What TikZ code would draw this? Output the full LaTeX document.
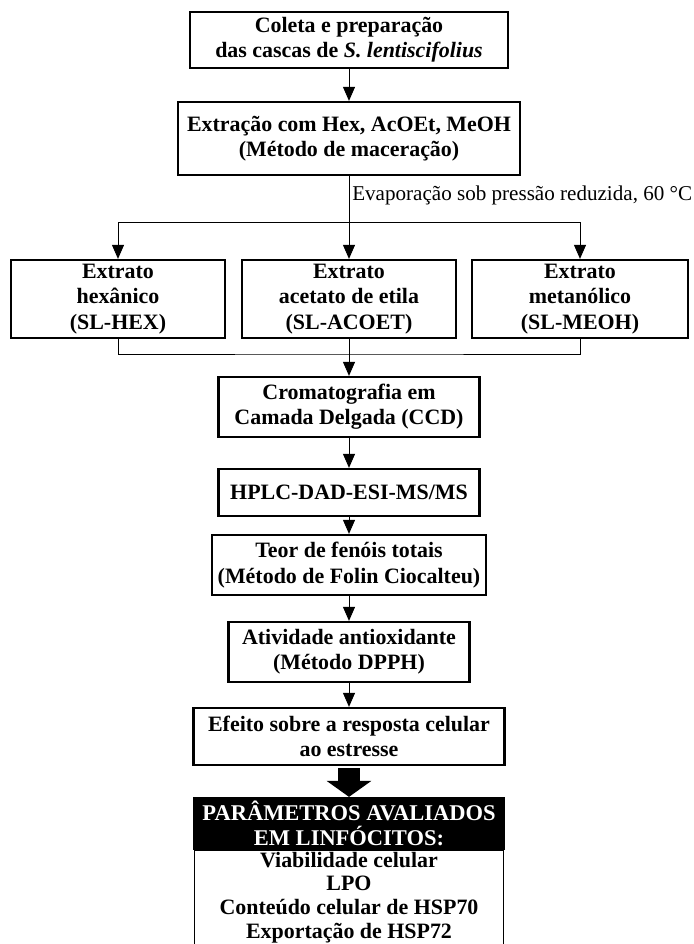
\documentclass[tikz,border=0pt]{standalone}
\usepackage{fontspec}
\setmainfont{Liberation Serif}
\usetikzlibrary{arrows.meta}

\begin{document}
\begin{tikzpicture}[font=\fontsize{15}{17.5}\selectfont,
	proc/.style={draw, line width=1.6pt, align=center, font=\bfseries\fontsize{15.6}{18}\selectfont, inner sep=1pt},
	arrow/.style={line width=0.7pt, -{Triangle[width=0.3cm, length=0.35cm]}}]
	% The frame of the picture
	\useasboundingbox (0, 0) rectangle (17.35, -23.6);
	\clip (0, 0) rectangle (17.35, -23.6);
	% The first steps
	\node[proc, minimum width=7.95cm, minimum height=1.4cm] (coleta) at (8.725, -1.0) {Coleta e preparação\\das cascas de \textit{S. lentiscifolius}};
	\node[proc, minimum width=8.55cm, minimum height=1.825cm] (extracao) at (8.725, -3.4625) {Extração com Hex, AcOEt, MeOH\\(Método de maceração)};
	% The three extracts
	\node[proc, minimum width=5.35cm, minimum height=1.95cm] (hex) at (2.95, -7.475) {Extrato\\hexânico\\(SL-HEX)};
	\node[proc, minimum width=5.35cm, minimum height=1.95cm] (acoet) at (8.725, -7.475) {Extrato\\acetato de etila\\(SL-ACOET)};
	\node[proc, minimum width=5.4cm, minimum height=1.95cm] (meoh) at (14.5, -7.475) {Extrato\\metanólico\\(SL-MEOH)};
	% The analyses
	\node[proc, minimum width=6.525cm, minimum height=1.5cm] (ccd) at (8.725, -10.175) {Cromatografia em\\Camada Delgada (CCD)};
	\node[proc, minimum width=6.525cm, minimum height=1.175cm] (hplc) at (8.725, -12.3125) {HPLC-DAD-ESI-MS/MS};
	\node[proc, minimum width=6.85cm, minimum height=1.5cm] (teor) at (8.725, -14.125) {Teor de fenóis totais\\(Método de Folin Ciocalteu)};
	\node[proc, minimum width=6.025cm, minimum height=1.5cm] (dpph) at (8.725, -16.3) {Atividade antioxidante\\(Método DPPH)};
	\node[proc, minimum width=7.775cm, minimum height=1.425cm] (efeito) at (8.725, -18.4125) {Efeito sobre a resposta celular\\ao estresse};
	% The evaluated parameters
	\node[proc, fill=black, text=white, font=\bfseries\fontsize{16}{17.5}\selectfont, minimum width=7.75cm, minimum height=1.275cm] (param) at (8.725, -20.5875) {PARÂMETROS AVALIADOS\\EM LINFÓCITOS:};
	\node[draw, line width=0.7pt, font=\bfseries\fontsize{15.6}{16.8}\selectfont, inner sep=1pt, anchor=north] (lista) at (param.south) {\parbox[c][2.7cm][t]{7.65cm}{\centering Viabilidade celular\\LPO\\Conteúdo celular de HSP70\\Exportação de HSP72}};
	% The branch points
	\coordinate (split) at (8.725, -5.55);
	\coordinate (join) at (8.725, -8.85);
	\node[anchor=west, inner sep=0pt] (evap) at (8.8, -4.875) {Evaporação sob pressão reduzida, 60~°C};
	% The connectors
	\draw[arrow] (coleta) -- (extracao);
	\draw[line width=0.7pt] (extracao) -- (split);
	\draw[arrow] (split) -| (hex);
	\draw[arrow] (split) -- (acoet);
	\draw[arrow] (split) -| (meoh);
	\draw[line width=0.7pt] (hex) |- (join) -| (meoh);
	\draw[line width=0.7pt] (acoet) -- (join);
	\draw[arrow] (join) -- (ccd);
	\draw[arrow] (ccd) -- (hplc);
	\draw[arrow] (hplc) -- (teor);
	\draw[arrow] (teor) -- (dpph);
	\draw[arrow] (dpph) -- (efeito);
	% The big arrow
	\draw[line width=0.55cm, -{Triangle[width=1.1cm, length=0.4cm]}, shorten <=0.05cm] (efeito) -- (param);
\end{tikzpicture}
\end{document}
